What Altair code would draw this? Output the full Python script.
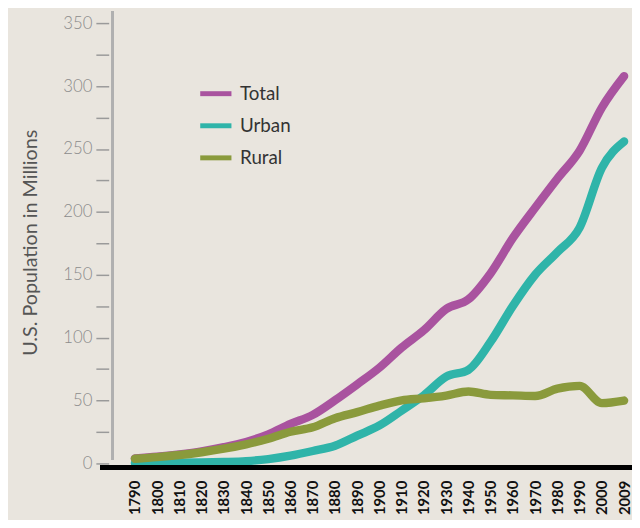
import altair as alt
import pandas as pd

years = ["1790", "1800", "1810", "1820", "1830", "1840", "1850", "1860", "1870", "1880",
         "1890", "1900", "1910", "1920", "1930", "1940", "1950", "1960", "1970", "1980",
         "1990", "2000", "2009"]
total = [3.9, 5.3, 7.2, 9.6, 12.9, 17.1, 23.2, 31.4, 38.6, 50.2,
         62.9, 76.2, 92.2, 106.0, 122.8, 130.5, 151.3, 179.3, 203.3, 226.5,
         248.7, 283.0, 308.0]
urban = [0.2, 0.3, 0.5, 0.7, 1.1, 1.8, 3.5, 6.2, 9.9, 14.1,
         22.1, 30.2, 42.0, 54.2, 69.0, 74.4, 96.8, 125.3, 150.0, 168.0,
         187.5, 235.0, 256.0]
rural = [3.7, 5.0, 6.7, 8.9, 11.7, 15.2, 19.6, 25.2, 28.7, 36.0,
         40.8, 46.0, 50.2, 51.8, 54.0, 57.2, 54.5, 54.1, 53.6, 59.5,
         61.7, 48.0, 50.0]
series = ["Total", "Urban", "Rural"]
colors = ["#a9539f", "#2fb4a9", "#8a9a3c"]
yticks = [0, 25, 50, 75, 100, 125, 150, 175, 200, 225, 250, 275, 300, 325, 350]

rows = []
for name, vals in zip(series, [total, urban, rural]):
    for yr, v in zip(years, vals):
        rows.append({"Year": yr, "Population": v, "Series": name})
df = pd.DataFrame(rows)

W, H = 518, 456

lines = alt.Chart(df).mark_line(
    strokeWidth=8.5, strokeCap="round", strokeJoin="round", interpolate="monotone"
).encode(
    x=alt.X("Year:O", sort=years,
            scale=alt.Scale(type="point", paddingOuter=0.306, align=1),
            axis=alt.Axis(title=None, labelAngle=270, ticks=False, domain=False,
                          labelPadding=17, labelFont="Lato", labelFontSize=15,
                          labelFontWeight="bold", labelColor="#111")),
    y=alt.Y("Population:Q", scale=alt.Scale(domain=[0, 358], nice=False),
            axis=alt.Axis(title="U.S. Population in Millions", values=yticks,
                          labelExpr="datum.value % 50 == 0 ? datum.label : ''",
                          grid=False, domain=False, offset=4, tickSize=13,
                          tickColor="#9a9a9a", tickWidth=1.5, labelPadding=4,
                          labelFont="Lato", labelFontSize=17, labelFontWeight=300,
                          labelColor="#8c8c8c",
                          titleFont="Lato", titleFontSize=20, titleFontWeight="normal",
                          titleColor="#555", titlePadding=23, titleY=232)),
    color=alt.Color("Series:N", sort=series,
                    scale=alt.Scale(domain=series, range=colors),
                    legend=alt.Legend(title=None, orient="none", legendX=86, legendY=63,
                                      symbolType="stroke", symbolSize=1000,
                                      symbolStrokeWidth=5, labelFont="Lato",
                                      labelFontSize=19, labelColor="#333",
                                      rowPadding=3.5, labelOffset=6)),
    order=alt.Order("order_key:Q"),
).transform_calculate(
    order_key="datum.Series == 'Total' ? 0 : (datum.Series == 'Urban' ? 1 : 2)"
)

yline = alt.Chart(df).mark_rule(color="#b0b0b0", strokeWidth=2).encode(
    x=alt.value(0), y=alt.value(-2), y2=alt.value(452)
)
xline = alt.Chart(df).mark_rule(color="#000000", strokeWidth=5).encode(
    x=alt.value(-12), x2=alt.value(W + 8), y=alt.value(H + 4)
)

chart = alt.layer(yline, lines, xline).properties(
    width=W, height=H,
    autosize=alt.AutoSizeParams(type="none"),
    padding={"left": 106, "right": 8, "top": 2, "bottom": 54},
    background="#e9e5de",
).configure_view(stroke=None)

chart.save("out.html", embed_options={"renderer": "svg", "actions": False})
